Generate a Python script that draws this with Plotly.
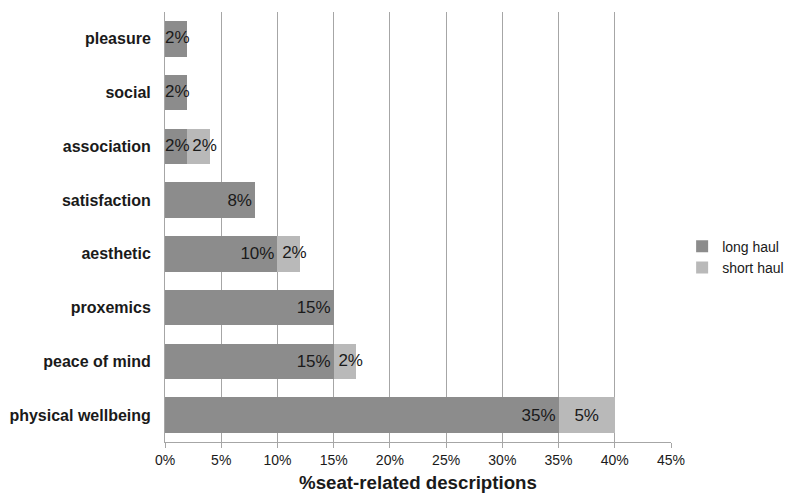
import plotly.graph_objects as go

categories = ["physical wellbeing", "peace of mind", "proxemics", "aesthetic",
              "satisfaction", "association", "social", "pleasure"]
long_haul = [35, 15, 15, 10, 8, 2, 2, 2]
short_haul = [5, 2, 0, 2, 0, 2, 0, 0]
x_ticks = [0, 5, 10, 15, 20, 25, 30, 35, 40, 45]

FIT = 3  # labels of narrower bars are drawn from the bar base instead

def labels(vals):
    return [f"{v}%" if v >= FIT else "" for v in vals]

TXT = dict(family="Liberation Sans, Arial", size=17, color="#1a1a1a")

fig = go.Figure()
fig.add_trace(go.Bar(
    y=categories, x=long_haul, orientation="h", name="long haul",
    marker=dict(color="#8c8c8c", line=dict(width=0)),
    text=labels(long_haul), textposition="inside", insidetextanchor="end",
    constraintext="none", textangle=0, cliponaxis=False,
    textfont=TXT, hoverinfo="skip",
))
fig.add_trace(go.Bar(
    y=categories, x=short_haul, orientation="h", name="short haul",
    marker=dict(color="#b9b9b9", line=dict(width=0)),
    text=labels(short_haul), textposition="inside", insidetextanchor="middle",
    constraintext="none", textangle=0, cliponaxis=False,
    textfont=TXT, hoverinfo="skip",
))

# labels for narrow segments, starting at the segment's base
sx, sy, st = [], [], []
for c, lv, sv in zip(categories, long_haul, short_haul):
    if 0 < lv < FIT:
        sx.append(0); sy.append(c); st.append(f"{lv}%")
    if 0 < sv < FIT:
        sx.append(lv); sy.append(c); st.append(f" {sv}%")
fig.add_trace(go.Scatter(
    x=sx, y=sy, text=st, mode="text", textposition="middle right",
    textfont=TXT, showlegend=False, hoverinfo="skip", cliponaxis=False,
))

fig.update_layout(
    barmode="stack",
    bargap=0.34,
    width=788, height=496,
    margin=dict(l=165, r=117, t=12, b=54, autoexpand=False),
    paper_bgcolor="white", plot_bgcolor="white",
    font=dict(family="Liberation Sans, Arial", color="#1a1a1a"),
    legend=dict(x=1.022, y=0.43, xanchor="left", yanchor="middle",
                font=dict(size=14, color="#1a1a1a"), traceorder="normal",
                itemwidth=30, tracegroupgap=4),
    showlegend=True,
)
fig.update_xaxes(
    range=[0, 45], tickvals=x_ticks, ticktext=[f"{t}%" for t in x_ticks],
    showgrid=True, gridcolor="#a6a6a6", gridwidth=1,
    showline=True, linecolor="#a6a6a6", linewidth=1,
    ticks="outside", ticklen=5, tickcolor="#a6a6a6",
    tickfont=dict(size=14, color="#1a1a1a"),
    title=dict(text="<b>%seat-related descriptions</b>",
               font=dict(size=18.7, color="#1a1a1a", family="Liberation Sans, Arial"),
               standoff=9),
    zeroline=False, fixedrange=True,
)
fig.update_yaxes(
    showgrid=False, showline=True, linecolor="#a6a6a6", linewidth=1,
    ticks="", ticklabelstandoff=10,
    tickfont=dict(size=16, color="#1a1a1a"),
    categoryorder="array", categoryarray=categories,
    tickvals=categories, ticktext=[f"<b>{c}</b>" for c in categories],
    fixedrange=True,
)

fig.write_html("out.html")
